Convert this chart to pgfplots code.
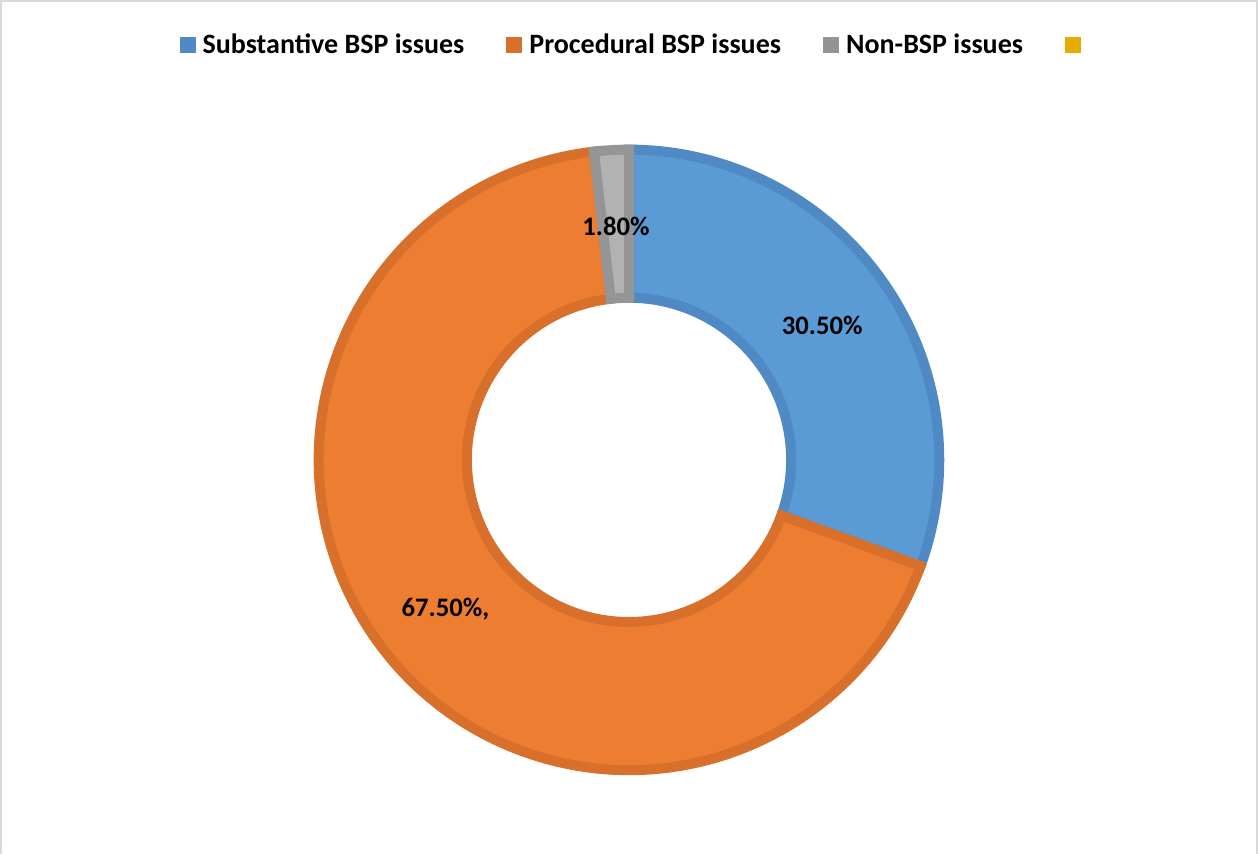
\documentclass[border=0pt]{standalone}
\usepackage{fontspec}
\setmainfont{Carlito}
\usepackage{pgfplots}
\usepackage{pgfplotstable}
\pgfplotsset{compat=1.18}

\definecolor{cBlue}{HTML}{5B9BD5}
\definecolor{cBlueD}{HTML}{4F8AC4}
\definecolor{cOrange}{HTML}{ED7D31}
\definecolor{cOrangeD}{HTML}{D8702C}
\definecolor{cGray}{HTML}{A5A5A5}
\definecolor{cGrayD}{HTML}{959595}
\definecolor{cYellow}{HTML}{E8AC00}
\definecolor{cFrame}{HTML}{D9D9D9}

\pgfplotstableread{
idx value
1 30.5
2 67.5
3 1.8
}\piedata

\pgfplotstablegetelem{0}{value}\of\piedata \let\vA\pgfplotsretval
\pgfplotstablegetelem{1}{value}\of\piedata \let\vB\pgfplotsretval
\pgfplotstablegetelem{2}{value}\of\piedata \let\vC\pgfplotsretval
\pgfmathsetmacro\tot{\vA+\vB+\vC}
\pgfmathsetmacro\aA{90}
\pgfmathsetmacro\aB{90-\vA/\tot*360}
\pgfmathsetmacro\aC{\aB-\vB/\tot*360}
\pgfmathsetmacro\aD{\aC-\vC/\tot*360}
\pgfmathsetmacro\aBi{\aB+180}
\pgfmathsetmacro\aCi{\aC+180}
\pgfmathsetmacro\aDi{\aD+180}

\begin{document}
\begin{tikzpicture}
\begin{axis}[
  x=0.6pt, y=0.6pt,
  xmin=0, xmax=1258, ymin=0, ymax=855,
  hide axis, clip=false, scale only axis,
  legend columns=4,
  legend image code/.code={\fill[#1, draw=none] (0pt,-4.8pt) rectangle (9.6pt,4.8pt);},
  legend style={at={(0.5045,0.946)}, anchor=center, draw=none, fill=none,
    inner sep=0pt, nodes={inner sep=0pt},
    font=\fontsize{16.8}{20}\selectfont\bfseries,
    /tikz/every odd column/.append style={column sep=4.2pt},
    /tikz/every even column/.append style={column sep=25.2pt}},
]
\addlegendimage{fill=cBlueD, draw=none}
\addlegendentry{Substantive BSP issues}
\addlegendimage{fill=cOrangeD, draw=none}
\addlegendentry{Procedural BSP issues}
\addlegendimage{fill=cGray!90!black, draw=none}
\addlegendentry{Non-BSP issues}
\addlegendimage{fill=cYellow, draw=none}
\addlegendentry{}

% frame
\draw[cFrame, line width=1.2pt] (axis cs:1.5,0) -- (axis cs:1.5,852.5) -- (axis cs:1256.5,852.5) -- (axis cs:1256.5,0);

% slices
\filldraw[fill=cBlue, draw=cBlueD, line width=6pt]
  (axis cs:629,394) ++(\aA:186pt) arc[start angle=\aA, end angle=\aB, radius=186pt]
  -- ++(\aBi:88.8pt) arc[start angle=\aB, end angle=\aA, radius=97.2pt] -- cycle;
\filldraw[fill=cOrange, draw=cOrangeD, line width=6pt]
  (axis cs:629,394) ++(\aB:186pt) arc[start angle=\aB, end angle=\aC, radius=186pt]
  -- ++(\aCi:88.8pt) arc[start angle=\aC, end angle=\aB, radius=97.2pt] -- cycle;
\filldraw[fill=cGray!85!white, draw=cGrayD, line width=6pt]
  (axis cs:629,394) ++(\aC:186pt) arc[start angle=\aC, end angle=\aD, radius=186pt]
  -- ++(\aDi:88.8pt) arc[start angle=\aD, end angle=\aC, radius=97.2pt] -- cycle;

% labels
\node[anchor=base, font=\fontsize{16}{19}\selectfont\bfseries, inner sep=0pt] at (axis cs:616,618) {1.80\%};
\node[anchor=base, font=\fontsize{16}{19}\selectfont\bfseries, inner sep=0pt] at (axis cs:822,519) {30.50\%};
\node[anchor=base, font=\fontsize{16}{19}\selectfont\bfseries, inner sep=0pt] at (axis cs:445.5,237) {67.50\%,};
\end{axis}
\end{tikzpicture}
\end{document}
